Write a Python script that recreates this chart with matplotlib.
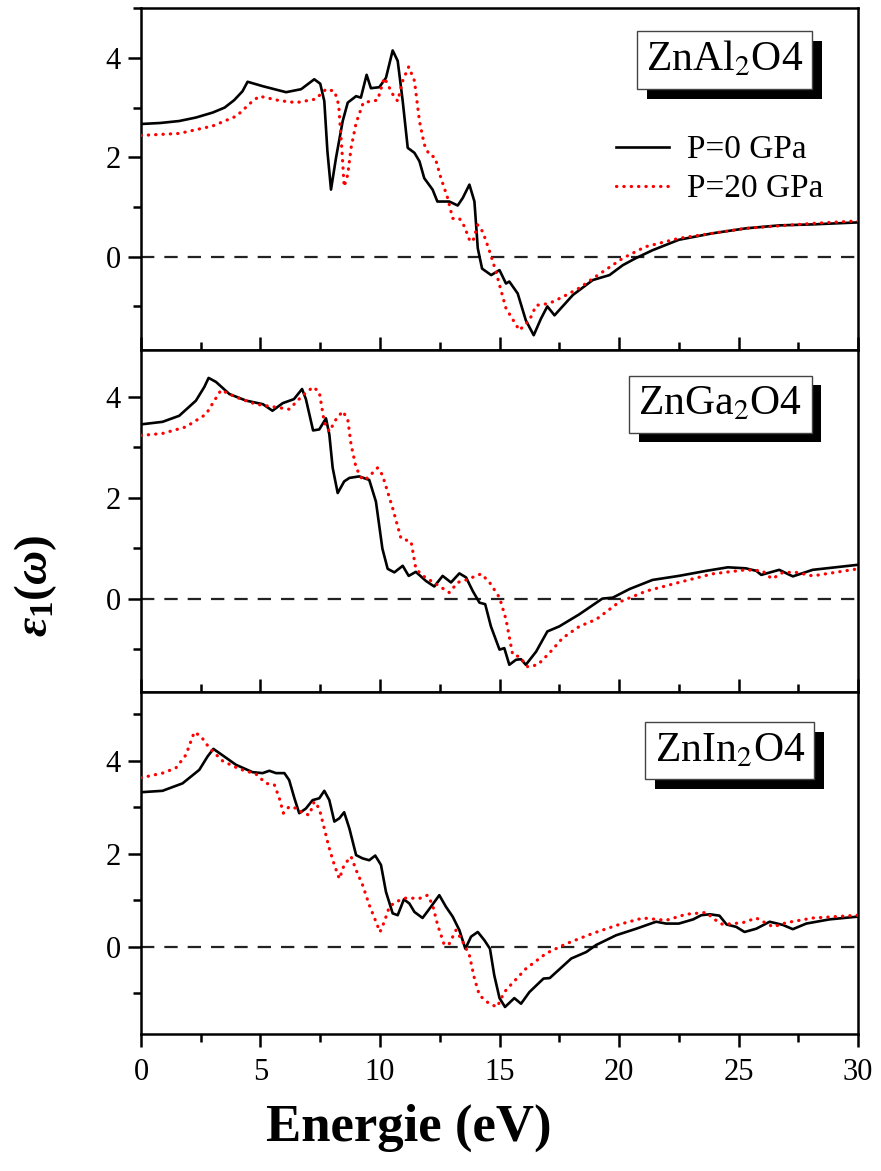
import numpy as np
import matplotlib
matplotlib.use('Agg')
import matplotlib.pyplot as plt
import matplotlib.patheffects as pe
from matplotlib.ticker import MultipleLocator
from matplotlib.transforms import blended_transform_factory

plt.rcParams['font.family'] = 'Liberation Serif'
plt.rcParams['mathtext.fontset'] = 'custom'
plt.rcParams['mathtext.rm'] = 'Liberation Serif:bold'
plt.rcParams['mathtext.it'] = 'Liberation Serif:bold:italic'
plt.rcParams['mathtext.bf'] = 'Liberation Serif:bold'

# ZnAl2O4, P = 0 GPa
al0_e = [0, 0.8, 1.6, 2.3, 3.0, 3.5, 3.9, 4.25, 4.46, 5.1, 6.07, 6.7, 7.25, 7.5, 7.67, 7.8, 7.95,
         8.16, 8.44, 8.65, 9.0, 9.2, 9.44, 9.62, 9.97, 10.25, 10.53, 10.74, 10.95, 11.16, 11.44,
         11.65, 11.85, 12.2, 12.4, 12.9, 13.25, 13.46, 13.74, 13.95, 14.09, 14.27, 14.65, 15.0,
         15.27, 15.41, 15.76, 16.1, 16.43, 16.73, 17.0, 17.3, 18.07, 18.9, 19.6, 20.16, 20.7,
         21.4, 22.5, 23.9, 25.3, 26.7, 28.1, 30.0]
al0_v = [2.67, 2.69, 2.73, 2.8, 2.9, 3.0, 3.15, 3.33, 3.52, 3.43, 3.31, 3.37, 3.57, 3.48, 3.13, 2.12,
         1.35, 1.99, 2.73, 3.10, 3.23, 3.2, 3.66, 3.39, 3.41, 3.6, 4.15, 3.94, 3.13, 2.19, 2.09,
         1.92, 1.58, 1.35, 1.11, 1.11, 1.03, 1.18, 1.45, 1.11, 0.17, -0.24, -0.37, -0.27,
         -0.54, -0.5, -0.74, -1.28, -1.58, -1.25, -1.0, -1.18, -0.77, -0.47, -0.37, -0.17, -0.03,
         0.13, 0.34, 0.47, 0.57, 0.63, 0.65, 0.69]
# ZnAl2O4, P = 20 GPa
al20_e = [0, 1.6, 3.0, 4.0, 4.6, 4.95, 5.8, 6.5, 7.3, 7.74, 8.1, 8.27, 8.41, 8.5, 8.65, 8.79, 9.0,
          9.3, 9.9, 10.18, 10.53, 10.74, 10.95, 11.2, 11.44, 11.65, 11.85, 12.06, 12.3, 12.55,
          12.83, 13.04, 13.32, 13.53, 13.74, 13.88, 14.09, 14.3, 14.57, 14.85, 15.0, 15.27, 15.83,
          16.25, 16.53, 17.08, 17.64, 18.34, 18.9, 20.16, 21.1, 22.5, 25.3, 28.1, 30.0]
al20_v = [2.44, 2.48, 2.63, 2.83, 3.1, 3.23, 3.14, 3.1, 3.17, 3.37, 3.33, 3.06, 2.12, 1.41, 1.65,
          2.19, 2.69, 3.1, 3.15, 3.6, 3.27, 3.13, 3.54, 3.82, 3.54, 2.73, 2.26, 2.05, 2.0, 1.58,
          1.18, 0.77, 0.77, 0.61, 0.34, 0.3, 0.64, 0.5, 0.13, -0.3, -0.57, -1.04, -1.48, -1.28,
          -0.98, -0.94, -0.81, -0.63, -0.44, -0.03, 0.2, 0.37, 0.57, 0.67, 0.72]

# ZnGa2O4, P = 0 GPa
ga0_e = [0, 0.9, 1.6, 2.3, 2.65, 2.83, 3.14, 3.7, 4.4, 5.1, 5.5, 5.93, 6.4, 6.74, 6.9, 7.2, 7.46,
         7.74, 7.88, 8.02, 8.23, 8.5, 8.72, 9.13, 9.55, 9.83, 10.1, 10.32, 10.6, 10.95, 11.2, 11.5,
         11.92, 12.27, 12.62, 12.97, 13.32, 13.6, 13.88, 14.16, 14.4, 14.64, 15.0, 15.2, 15.41,
         15.69, 15.9, 16.1, 16.53, 17.0, 17.5, 18.34, 19.3, 19.74, 20.44, 21.4, 22.5, 23.65,
         24.55, 25.3, 25.74, 25.95, 26.7, 27.27, 28.1, 30.0]
ga0_v = [3.45, 3.5, 3.62, 3.92, 4.19, 4.37, 4.29, 4.05, 3.92, 3.85, 3.72, 3.87, 3.95, 4.15, 3.95,
         3.33, 3.35, 3.57, 3.25, 2.59, 2.09, 2.32, 2.39, 2.42, 2.35, 1.92, 0.99, 0.59, 0.52, 0.65,
         0.45, 0.53, 0.35, 0.24, 0.45, 0.32, 0.5, 0.42, 0.15, -0.08, -0.11, -0.55, -1.01, -0.98,
         -1.31, -1.21, -1.2, -1.31, -1.05, -0.65, -0.55, -0.31, 0.0, 0.02, 0.19, 0.37, 0.45, 0.55,
         0.62, 0.6, 0.55, 0.47, 0.57, 0.44, 0.57, 0.67]
# ZnGa2O4, P = 20 GPa
ga20_e = [0, 0.9, 1.88, 2.72, 3.07, 3.35, 3.97, 4.8, 5.5, 6.2, 6.76, 7.2, 7.46, 7.67, 7.88, 8.16,
          8.44, 8.65, 8.79, 9.0, 9.27, 9.48, 9.9, 10.1, 10.53, 10.88, 11.3, 11.5, 11.8, 12.34,
          12.9, 13.25, 13.6, 14.23, 14.57, 15.0, 15.27, 15.55, 15.83, 16.18, 16.6, 17.08, 17.64,
          18.34, 19.05, 20.0, 21.14, 22.5, 23.9, 25.3, 26.0, 26.4, 26.86, 27.4, 28.1, 30.0]
ga20_v = [3.23, 3.27, 3.4, 3.65, 3.92, 4.13, 3.99, 3.85, 3.8, 3.75, 4.02, 4.19, 4.09, 3.49, 3.31,
          3.55, 3.71, 3.55, 3.05, 2.59, 2.35, 2.39, 2.59, 2.45, 1.79, 1.19, 1.13, 0.59, 0.45,
          0.29, 0.12, 0.32, 0.37, 0.49, 0.33, 0.02, -0.41, -1.11, -1.15, -1.35, -1.31, -1.08,
          -0.78, -0.55, -0.41, -0.07, 0.15, 0.32, 0.49, 0.57, 0.55, 0.39, 0.52, 0.52, 0.45, 0.59]

# ZnIn2O4, P = 0 GPa
in0_e = [0, 0.9, 1.74, 2.44, 2.79, 3.03, 3.42, 3.97, 4.67, 5.09, 5.37, 5.65, 6.0, 6.2, 6.42, 6.62,
         6.9, 7.18, 7.46, 7.67, 7.88, 8.09, 8.3, 8.5, 8.72, 9.0, 9.27, 9.55, 9.8, 10.04, 10.25,
         10.53, 10.74, 11.0, 11.23, 11.44, 11.78, 12.13, 12.48, 12.76, 13.04, 13.32, 13.57, 13.81,
         14.09, 14.37, 14.6, 14.78, 15.0, 15.23, 15.62, 15.9, 16.25, 16.84, 17.1, 18.0, 18.63,
         19.04, 19.88, 20.72, 21.55, 21.97, 22.5, 23.1, 23.44, 23.8, 24.2, 24.5, 24.9, 25.25,
         25.74, 26.3, 26.86, 27.27, 27.83, 28.8, 30.0]
in0_v = [3.32, 3.35, 3.51, 3.8, 4.09, 4.25, 4.11, 3.91, 3.75, 3.73, 3.78, 3.73, 3.73, 3.58, 3.19,
         2.87, 2.97, 3.15, 3.19, 3.35, 3.15, 2.69, 2.76, 2.89, 2.54, 1.97, 1.9, 1.86, 1.96, 1.76,
         1.18, 0.72, 0.68, 1.02, 0.93, 0.75, 0.62, 0.86, 1.11, 0.86, 0.65, 0.36, -0.04, 0.22,
         0.32, 0.14, -0.04, -0.61, -1.1, -1.29, -1.1, -1.22, -0.97, -0.68, -0.67, -0.25, -0.11,
         0.04, 0.25, 0.39, 0.54, 0.5, 0.5, 0.59, 0.68, 0.7, 0.67, 0.48, 0.43, 0.32, 0.39, 0.54,
         0.47, 0.38, 0.5, 0.59, 0.65]
# ZnIn2O4, P = 20 GPa
in20_e = [0, 0.9, 1.46, 1.88, 2.23, 2.51, 2.86, 3.42, 4.11, 4.81, 5.23, 5.58, 5.79, 5.96, 6.2,
          6.55, 6.76, 7.04, 7.25, 7.46, 7.67, 7.88, 8.09, 8.3, 8.5, 8.79, 9.0, 9.27, 9.55, 9.83,
          10.0, 10.18, 10.39, 10.67, 11.09, 11.65, 11.99, 12.2, 12.41, 12.69, 12.9, 13.18, 13.46,
          13.74, 13.95, 14.16, 14.57, 14.9, 15.2, 15.5, 16.1, 16.95, 17.8, 18.9, 20.0, 21.0,
          21.97, 22.8, 23.65, 23.93, 24.34, 25.18, 25.74, 26.44, 27.0, 28.1, 30.0]
in20_v = [3.63, 3.73, 3.84, 4.12, 4.61, 4.52, 4.27, 3.99, 3.82, 3.71, 3.51, 3.48, 3.19, 2.87, 3.01,
          2.97, 2.87, 2.83, 3.12, 2.97, 2.54, 2.11, 1.76, 1.46, 1.76, 1.94, 1.65, 1.33, 0.9, 0.54,
          0.32, 0.54, 0.86, 0.97, 1.05, 1.04, 1.11, 0.9, 0.47, 0.04, 0.07, 0.36, 0.11, -0.18,
          -0.68, -1.04, -1.22, -1.29, -0.97, -0.8, -0.47, -0.14, 0.07, 0.29, 0.48, 0.62, 0.57,
          0.7, 0.74, 0.61, 0.48, 0.52, 0.62, 0.43, 0.52, 0.62, 0.68]

panels = [
    ('ZnAl$_2$O4', al0_e, al0_v, al20_e, al20_v, (-1.88, 5.0), (0.814, 0.849)),
    ('ZnGa$_2$O4', ga0_e, ga0_v, ga20_e, ga20_v, (-1.85, 4.92), (0.808, 0.842)),
    ('ZnIn$_2$O4', in0_e, in0_v, in20_e, in20_v, (-1.87, 5.47), (0.821, 0.828)),
]

fig, axes = plt.subplots(3, 1, figsize=(8.81, 11.71), dpi=100, sharex=True)
fig.subplots_adjust(left=0.160, right=0.974, top=0.993, bottom=0.117, hspace=0)

shadow = [pe.SimplePatchShadow(offset=(7, -7), shadow_rgbFace='black', alpha=1.0), pe.Normal()]

for i, (name, e0, v0, e20, v20, ylim, boxpos) in enumerate(panels):
    ax = axes[i]
    ax.axhline(0, color='#222222', lw=1.6, ls=(0, (6, 4.5)), zorder=1)
    ax.plot(e0, v0, color='black', lw=1.9, label='P=0 GPa', zorder=3)
    ax.plot(e20, v20, color='red', lw=2.3, ls=(0, (0.1, 2.2)), dash_capstyle='round',
            label='P=20 GPa', zorder=4)
    ax.set_xlim(0, 30)
    ax.set_ylim(*ylim)
    ax.yaxis.set_major_locator(MultipleLocator(2))
    ax.yaxis.set_minor_locator(MultipleLocator(1))
    ax.xaxis.set_major_locator(MultipleLocator(5))
    ax.xaxis.set_minor_locator(MultipleLocator(2.5))
    ax.tick_params(axis='y', which='major', direction='out', length=9.5, width=1.8,
                   labelsize=22, pad=5)
    ax.tick_params(axis='y', which='minor', direction='out', length=5.5, width=1.8)
    xdir = 'out' if i == 2 else 'in'
    ax.tick_params(axis='x', which='major', direction=xdir, length=9.5, width=1.8,
                   labelsize=22, pad=8)
    ax.tick_params(axis='x', which='minor', direction=xdir, length=5.5, width=1.8)
    for s in ax.spines.values():
        s.set_linewidth(1.8)
    ax.text(boxpos[0], boxpos[1], name, transform=ax.transAxes, fontsize=30,
            ha='center', va='center', math_fontfamily='stix', zorder=6,
            bbox=dict(boxstyle='square,pad=0.22', fc='white', ec='#444444', lw=1.0,
                      path_effects=shadow))

axes[0].legend(loc='center left', bbox_to_anchor=(0.662, 0.528), frameon=False, fontsize=24,
               handlelength=1.6, handletextpad=0.55, labelspacing=0.25, borderpad=0,
               borderaxespad=0)

fig.text(0.04, 0.5, r'$\varepsilon_1(\omega)$', rotation=90, fontsize=34,
         ha='center', va='center')
tr = blended_transform_factory(axes[2].transData, fig.transFigure)
axes[2].text(11.2, 0.037, 'Energie (eV)', transform=tr, fontsize=38, fontweight='bold',
             ha='center', va='center')

fig.savefig('out.png', dpi=100)
